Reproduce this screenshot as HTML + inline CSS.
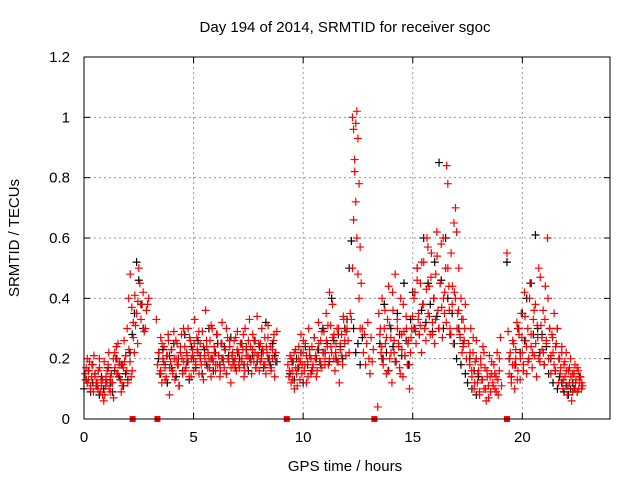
<!DOCTYPE html>
<html><head><meta charset="utf-8"><style>
body{margin:0;background:#fff}
svg{display:block;font-family:"Liberation Sans",sans-serif}
</style></head><body>
<svg id="chart" width="640" height="480">
<text x="345" y="32" font-size="15" text-anchor="middle">Day 194 of 2014, SRMTID for receiver sgoc</text>
<text x="345" y="471" font-size="15" text-anchor="middle">GPS time / hours</text>
<text transform="translate(19,238) rotate(-90)" font-size="15" text-anchor="middle">SRMTID / TECUs</text>
<g id="grid"></g><g id="marks"></g>
<rect x="84" y="57" width="526" height="362" fill="none" stroke="#000" stroke-width="1"/>
</svg>
<script>
const xTicks=[0,5,10,15,20];
const yTicks=[0,0.2,0.4,0.6,0.8,1,1.2];
const yTickLabels=["0","0.2","0.4","0.6","0.8","1","1.2"];
const gapHours=[2.22,3.35,9.25,13.25,19.3];
const redStarts=[0.05,3.3,9.3,12.2,12.25,13.4,15.05,17.55,19.3];
const redSteps=[0.05,0.05,0.05,0.05,0.05,0.05,0.05,0.05,0.05];
const redSeg0=[0.15,0.17,0.12,0.13,0.19,0.1,0.14,0.18,0.21,0.14,0.11,0.12,0.16,0.2,0.09,0.11,0.13,0.06,0.08,0.14,0.12,0.18,0.1,0.09,0.15,0.12,0.07,0.22,0.2,0.15,0.25,0.18,0.13,0.09,0.11,0.17,0.19,0.21,0.16,0.12,0.23,0.19,0.14,0.16,0.27,0.22,0.31,0.35,0.25,0.5,0.45,0.33,0.38,0.42,0.29,0.3,0.36,0.38,0.4];
const redSeg1=[0.33,0.18,0.22,0.15,0.27,0.12,0.2,0.24,0.17,0.14,0.21,0.26,0.08,0.19,0.23,0.16,0.29,0.13,0.2,0.25,0.18,0.11,0.22,0.28,0.15,0.19,0.24,0.17,0.21,0.3,0.14,0.26,0.2,0.23,0.16,0.33,0.19,0.27,0.22,0.15,0.25,0.18,0.29,0.13,0.21,0.36,0.24,0.17,0.2,0.26,0.14,0.3,0.19,0.22,0.16,0.28,0.18,0.21,0.14,0.25,0.32,0.2,0.17,0.23,0.15,0.27,0.19,0.24,0.12,0.21,0.18,0.26,0.2,0.16,0.29,0.22,0.17,0.25,0.19,0.23,0.14,0.3,0.21,0.18,0.26,0.2,0.24,0.15,0.28,0.19,0.22,0.17,0.34,0.21,0.16,0.25,0.2,0.23,0.18,0.27,0.15,0.22,0.31,0.19,0.24,0.17,0.2,0.26,0.14,0.22,0.29];
const redSeg2=[0.18,0.14,0.21,0.12,0.16,0.19,0.1,0.23,0.15,0.17,0.2,0.13,0.28,0.18,0.22,0.16,0.25,0.12,0.19,0.3,0.21,0.15,0.24,0.18,0.27,0.2,0.14,0.23,0.32,0.19,0.26,0.17,0.22,0.29,0.2,0.35,0.24,0.18,0.42,0.31,0.22,0.27,0.2,0.16,0.25,0.3,0.19,0.12,0.23,0.28,0.18,0.33,0.25,0.21,0.3,0.26,0.22,0.35];
const redSeg3=[0.33,0.5,0.66,0.82,0.98,1.02,0.93,0.78,0.57,0.45,0.3,0.22,0.28,0.18,0.25,0.32,0.2,0.15,0.27,0.19,0.23];
const redSeg4=[1.0,0.96,0.86,0.72,0.6,0.48,0.4,0.3];
const redSeg5=[0.04,0.35,0.28,0.22,0.4,0.18,0.3,0.25,0.15,0.33,0.44,0.2,0.27,0.12,0.36,0.22,0.48,0.19,0.3,0.25,0.17,0.4,0.23,0.14,0.29,0.21,0.34,0.18,0.26,0.1,0.22,0.3];
const redSeg6=[0.3,0.42,0.25,0.5,0.33,0.28,0.45,0.22,0.38,0.52,0.3,0.26,0.6,0.35,0.44,0.28,0.55,0.32,0.4,0.25,0.48,0.62,0.36,0.3,0.45,0.58,0.27,0.4,0.35,0.5,0.84,0.78,0.44,0.3,0.55,0.38,0.25,0.42,0.7,0.62,0.35,0.5,0.28,0.4,0.22,0.33,0.26,0.38,0.2];
const redSeg7=[0.25,0.18,0.3,0.14,0.22,0.1,0.19,0.26,0.12,0.16,0.08,0.2,0.13,0.24,0.1,0.17,0.06,0.14,0.11,0.21,0.09,0.15,0.12,0.18,0.1,0.14,0.22,0.08,0.16,0.27,0.11];
const redSeg8=[0.55,0.29,0.15,0.22,0.12,0.18,0.25,0.1,0.2,0.32,0.16,0.28,0.13,0.35,0.22,0.18,0.42,0.26,0.15,0.3,0.2,0.45,0.24,0.17,0.33,0.21,0.38,0.14,0.27,0.5,0.19,0.31,0.23,0.36,0.18,0.44,0.26,0.6,0.2,0.3,0.15,0.28,0.22,0.35,0.16,0.25,0.3,0.12,0.2,0.17,0.24,0.1,0.18,0.14,0.22,0.08,0.16,0.12,0.2,0.06,0.15,0.1,0.18,0.13,0.09,0.16,0.12,0.14,0.1,0.11];
const redSegs=[redSeg0,redSeg1,redSeg2,redSeg3,redSeg4,redSeg5,redSeg6,redSeg7,redSeg8];
const red2Starts=[0.08,3.42,9.38,13.52,17.62,19.42];
const red2Seg0=[0.13,0.2,0.16,0.11,0.18,0.09,0.15,0.12,0.1,0.17,0.13,0.08,0.19,0.11,0.16,0.22,0.14,0.12,0.2,0.17,0.24,0.15,0.19,0.13,0.18,0.26,0.21,0.3,0.4,0.48,0.37,0.32,0.41,0.35,0.39];
const red2Seg1=[0.22,0.16,0.25,0.19,0.13,0.21,0.28,0.17,0.23,0.15,0.2,0.26,0.18,0.11,0.24,0.2,0.3,0.16,0.22,0.19,0.27,0.14,0.21,0.25,0.18,0.23,0.29,0.2,0.15,0.24,0.19,0.26,0.22,0.17,0.31,0.2,0.24,0.18,0.28,0.21,0.16,0.25,0.19,0.23,0.3,0.2,0.26,0.17,0.22,0.19,0.27,0.23,0.18,0.25,0.2,0.28,0.16,0.24,0.21,0.33,0.19,0.23,0.26,0.17,0.21,0.25,0.19,0.3,0.22,0.18,0.24,0.27,0.2,0.16,0.23,0.28,0.19];
const red2Seg2=[0.16,0.2,0.13,0.22,0.17,0.11,0.24,0.19,0.15,0.26,0.18,0.21,0.14,0.23,0.2,0.17,0.27,0.21,0.16,0.25,0.19,0.29,0.22,0.18,0.26,0.31,0.2,0.24,0.38,0.28,0.22,0.19,0.3,0.25,0.21,0.34,0.26,0.29];
const red2Seg3=[0.3,0.24,0.2,0.36,0.27,0.16,0.31,0.22,0.42,0.26,0.19,0.33,0.24,0.15,0.28,0.38,0.21,0.3,0.25,0.18,0.27,0.34,0.4,0.29,0.46,0.35,0.31,0.52,0.38,0.3,0.43,0.57,0.34,0.47,0.28,0.4,0.33,0.54,0.3,0.45,0.37,0.6,0.42,0.32,0.5,0.36,0.28,0.44,0.65,0.4,0.3,0.36,0.27,0.33,0.24,0.3];
const red2Seg4=[0.22,0.16,0.27,0.12,0.2,0.15,0.09,0.18,0.13,0.22,0.1,0.16,0.07,0.14,0.19,0.11,0.15,0.09,0.13,0.2];
const red2Seg5=[0.2,0.14,0.26,0.18,0.23,0.13,0.3,0.2,0.27,0.16,0.34,0.24,0.19,0.4,0.28,0.22,0.36,0.25,0.31,0.2,0.47,0.27,0.22,0.33,0.25,0.4,0.3,0.21,0.27,0.18,0.24,0.3,0.2,0.15,0.22,0.13,0.19,0.16,0.11,0.17,0.14,0.09,0.15,0.12,0.17,0.1,0.14,0.12];
const red2Segs=[red2Seg0,red2Seg1,red2Seg2,red2Seg3,red2Seg4,red2Seg5];
const blackStarts=[0.0,3.4,9.4,13.5,19.3];
const blackSeg0=[0.1,0.13,0.16,0.09,0.12,0.15,0.11,0.08,0.14,0.1,0.13,0.17,0.12,0.09,0.16,0.2,0.14,0.18,0.11,0.15,0.13,0.22,0.28,0.35,0.52,0.46,0.38,0.3];
const blackSeg1=[0.2,0.15,0.23,0.18,0.12,0.21,0.17,0.25,0.14,0.2,0.22,0.16,0.28,0.19,0.13,0.24,0.2,0.17,0.26,0.21,0.15,0.23,0.18,0.3,0.2,0.16,0.22,0.25,0.18,0.2,0.24,0.15,0.21,0.27,0.19,0.17,0.22,0.2,0.25,0.18,0.23,0.16,0.2,0.21,0.26,0.19,0.24,0.22,0.17,0.32,0.2,0.18,0.25,0.21,0.19];
const blackSeg2=[0.15,0.19,0.13,0.2,0.17,0.22,0.12,0.24,0.18,0.21,0.16,0.27,0.2,0.23,0.18,0.3,0.22,0.25,0.19,0.4,0.26,0.2,0.28,0.24,0.2,0.3,0.33,0.5,0.59,0.3,0.22,0.25,0.18,0.27];
const blackSeg3=[0.25,0.2,0.38,0.22,0.16,0.3,0.24,0.19,0.35,0.28,0.21,0.45,0.26,0.18,0.33,0.42,0.3,0.5,0.28,0.36,0.6,0.32,0.45,0.38,0.29,0.52,0.34,0.85,0.46,0.3,0.6,0.4,0.28,0.35,0.25,0.2,0.3,0.18,0.25,0.15,0.12,0.2,0.1,0.16,0.08,0.14];
const blackSeg4=[0.52,0.2,0.14,0.25,0.18,0.3,0.22,0.35,0.26,0.4,0.2,0.45,0.28,0.61,0.3,0.22,0.28,0.18,0.24,0.15,0.2,0.12,0.16,0.1,0.14,0.12,0.09,0.11,0.08,0.1,0.12,0.1,0.09,0.14];
const blackSegs=[blackSeg0,blackSeg1,blackSeg2,blackSeg3,blackSeg4];

const NS="http://www.w3.org/2000/svg";
const X0=84,X1=610,Y0=419,Y1=57,XMAX=24,YMAX=1.2;
function xs(h){return X0+(h/XMAX)*(X1-X0);}
function ys(v){return Y0-(v/YMAX)*(Y0-Y1);}
const grid=document.getElementById('grid'),marks=document.getElementById('marks');
function mk(tag,attrs,parent){const e=document.createElementNS(NS,tag);for(const k in attrs)e.setAttribute(k,attrs[k]);parent.appendChild(e);return e;}
xTicks.forEach(t=>{
  const x=xs(t);
  if(t>0){const g=mk('line',{x1:x,y1:Y1,x2:x,y2:Y0,stroke:'#999','stroke-dasharray':'2,3'},grid);
  
  }
  mk('line',{x1:x,y1:Y0,x2:x,y2:Y0-6,stroke:'#000'},grid);
  mk('line',{x1:x,y1:Y1,x2:x,y2:Y1+6,stroke:'#000'},grid);
  const l=mk('text',{x:x,y:Y0+23,'font-size':15,'text-anchor':'middle'},grid);
  l.textContent=String(t);
  
  
});
yTicks.forEach((v,i)=>{
  const y=ys(v);
  if(v>0&&v<YMAX){const g=mk('line',{x1:X0,y1:y,x2:X1,y2:y,stroke:'#999','stroke-dasharray':'2,3'},grid);
  
  }
  mk('line',{x1:X0,y1:y,x2:X0+6,y2:y,stroke:'#000'},grid);
  mk('line',{x1:X1,y1:y,x2:X1-6,y2:y,stroke:'#000'},grid);
  const l=mk('text',{x:X0-14,y:y+5,'font-size':15,'text-anchor':'end'},grid);
  l.textContent=yTickLabels[i];
  
  
});
function cross(h,v,color,name){
  const x=xs(h),y=ys(v);
  const p=mk('path',{d:`M${x-4},${y}H${x+4}M${x},${y-4}V${y+4}`,stroke:color,'stroke-width':1.2,fill:'none'},marks);
  
  
}
blackSegs.forEach((seg,s)=>seg.forEach((v,i)=>cross(blackStarts[s]+i*0.1,v,'#000','black-point')));
red2Segs.forEach((seg,s)=>seg.forEach((v,i)=>cross(red2Starts[s]+i*0.07,v,'#f00','red-point')));
redSegs.forEach((seg,s)=>seg.forEach((v,i)=>cross(redStarts[s]+i*redSteps[s],v,'#f00','red-point')));
gapHours.forEach(h=>{
  const r=mk('rect',{x:xs(h)-3,y:Y0-3,width:6,height:6,fill:'#f00'},marks);
  
  
});
</script>
</body></html>
